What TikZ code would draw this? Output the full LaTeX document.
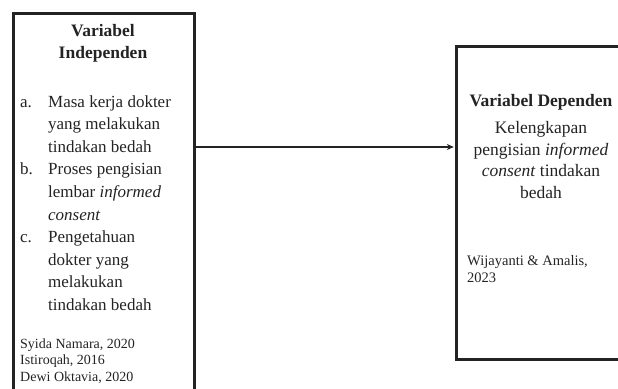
\documentclass[tikz,border=0pt]{standalone}
\usepackage{fontspec}
\setmainfont{Liberation Serif}
\usetikzlibrary{positioning,arrows.meta}
\definecolor{InkGray}{RGB}{35,35,35}
\tikzset{
  varbox/.style={draw=InkGray,line width=2.8pt,minimum width=181pt,inner sep=0pt},
  head/.style={font=\bfseries\fontsize{17.5}{22}\selectfont,align=center,text=InkGray,inner sep=0pt},
  body/.style={font=\fontsize{17}{22.6}\selectfont,text=InkGray,inner sep=0pt},
  src/.style={font=\fontsize{14}{16.5}\selectfont,align=left,text=InkGray,inner sep=0pt},
  link/.style={draw=InkGray,line width=2pt,-{Stealth[length=7pt,width=6pt]},shorten >=1.2pt},
}

\begin{document}
\begin{tikzpicture}
\useasboundingbox (0,0) rectangle (618pt,388pt);
\clip (0,0) rectangle (618pt,388pt);
% the two boxes
\node[varbox,anchor=north west,minimum height=400pt] (indep) at (12pt,376pt) {};
\node[varbox,anchor=north west,minimum height=313pt] (dep) at (455pt,343pt) {};
% independent side
\node[head,anchor=north] (indephead) at (103pt,364pt) {Variabel\\Independen};
\node[body,anchor=north west] (indeplist) at (20pt,297pt) {%
  \begin{tabular}{@{}p{28pt}@{}l@{}}
  a. & Masa kerja dokter\\
     & yang melakukan\\
     & tindakan bedah\\
  b. & Proses pengisian\\
     & lembar \textit{informed}\\
     & \textit{consent}\\
  c. & Pengetahuan\\
     & dokter yang\\
     & melakukan\\
     & tindakan bedah
  \end{tabular}};
\node[src,anchor=north west] (indepsrc) at (20pt,49.5pt) {Syida Namara, 2020\\Istiroqah, 2016\\Dewi Oktavia, 2020};
% dependent side
\node[head,anchor=north] (dephead) at (541pt,294pt) {Variabel Dependen};
\node[body,anchor=north,align=center,font=\fontsize{17.5}{21.8}\selectfont] (deptext) at (541pt,267pt)
  {Kelengkapan\\pengisian \textit{informed}\\\textit{consent} tindakan\\bedah};
\node[src,anchor=north west,font=\fontsize{14.5}{17}\selectfont] (depsrc) at (467pt,133pt) {Wijayanti \& Amalis,\\2023};
% arrow
\coordinate (arrowlevel) at (0,241pt);
\draw[link] (indep.east |- arrowlevel) -- (dep.west |- arrowlevel);
\end{tikzpicture}
\end{document}
